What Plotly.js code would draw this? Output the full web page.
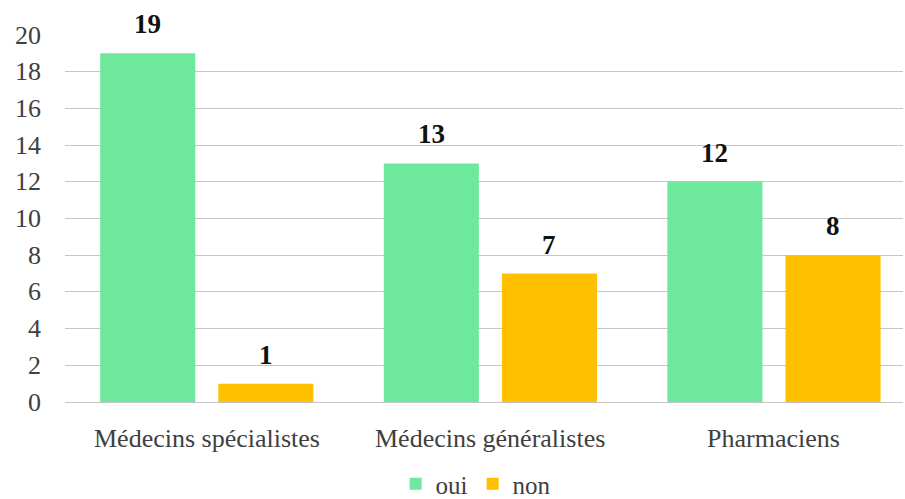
<!DOCTYPE html>
<html><head><meta charset="utf-8">
<script src="https://cdn.plot.ly/plotly-3.0.1.min.js"></script>
<style>html,body{margin:0;padding:0;overflow:hidden;background:#fff}</style>
</head><body>
<div id="chart" style="width:905px;height:499px"></div>
<script>
const categories = ["Médecins spécialistes", "Médecins généralistes", "Pharmaciens"];
const seriesNames = ["oui", "non"];
const oui = [19, 13, 12];
const non = [1, 7, 8];
const yTicks = [0, 2, 4, 6, 8, 10, 12, 14, 16, 18, 20];
const colors = ["#6EE89C", "#FFC000"];

const FAM = "Liberation Serif";
const txt = "#404040";

const traces = [oui, non].map((vals, i) => ({
  type: "bar", name: seriesNames[i], x: categories, y: vals,
  marker: {color: colors[i]}, hoverinfo: "skip"
}));

const annotations = [];
[oui, non].forEach((vals, i) => {
  vals.forEach((v, j) => {
    annotations.push({
      x: categories[j], y: v, xref: "x", yref: "y",
      text: "<b>" + v + "</b>", showarrow: false,
      xshift: i === 0 ? -59 : 59, yshift: 29,
      font: {family: FAM, size: 27, color: "#111"}
    });
  });
});
categories.forEach(c => annotations.push({
  x: c, y: 0, xref: "x", yref: "y", text: c, showarrow: false,
  yanchor: "middle", yshift: -36, font: {family: FAM, size: 26, color: txt}
}));
yTicks.forEach(t => annotations.push({
  x: 0, y: t, xref: "paper", yref: "y", text: String(t), showarrow: false,
  xanchor: "right", xshift: -22, font: {family: FAM, size: 26, color: txt}
}));

const layout = {
  width: 905, height: 499,
  margin: {l: 65, r: 2, t: 35, b: 97},
  paper_bgcolor: "#fff", plot_bgcolor: "#fff",
  font: {family: FAM, color: txt, size: 26},
  barmode: "group", bargap: 0.167, bargroupgap: 0.195,
  xaxis: {range: [-0.5, 2.455], showgrid: false, zeroline: false, showline: false,
          ticks: "", showticklabels: false, automargin: false, fixedrange: true},
  yaxis: {range: [0, 20], tickvals: yTicks, showgrid: true, gridcolor: "#c6c6c6", gridwidth: 1,
          zeroline: true, zerolinecolor: "#c6c6c6", zerolinewidth: 1, showline: false,
          ticks: "", showticklabels: false, automargin: false, fixedrange: true},
  showlegend: true,
  legend: {orientation: "h", x: 0.49, xanchor: "center", yref: "container", y: 0.03, yanchor: "middle",
           font: {family: FAM, size: 25, color: txt}, itemwidth: 30, traceorder: "normal",
           tracegroupgap: 0},
  annotations: annotations
};

Plotly.newPlot("chart", traces, layout, {displayModeBar: false, staticPlot: true});
</script>
</body></html>
